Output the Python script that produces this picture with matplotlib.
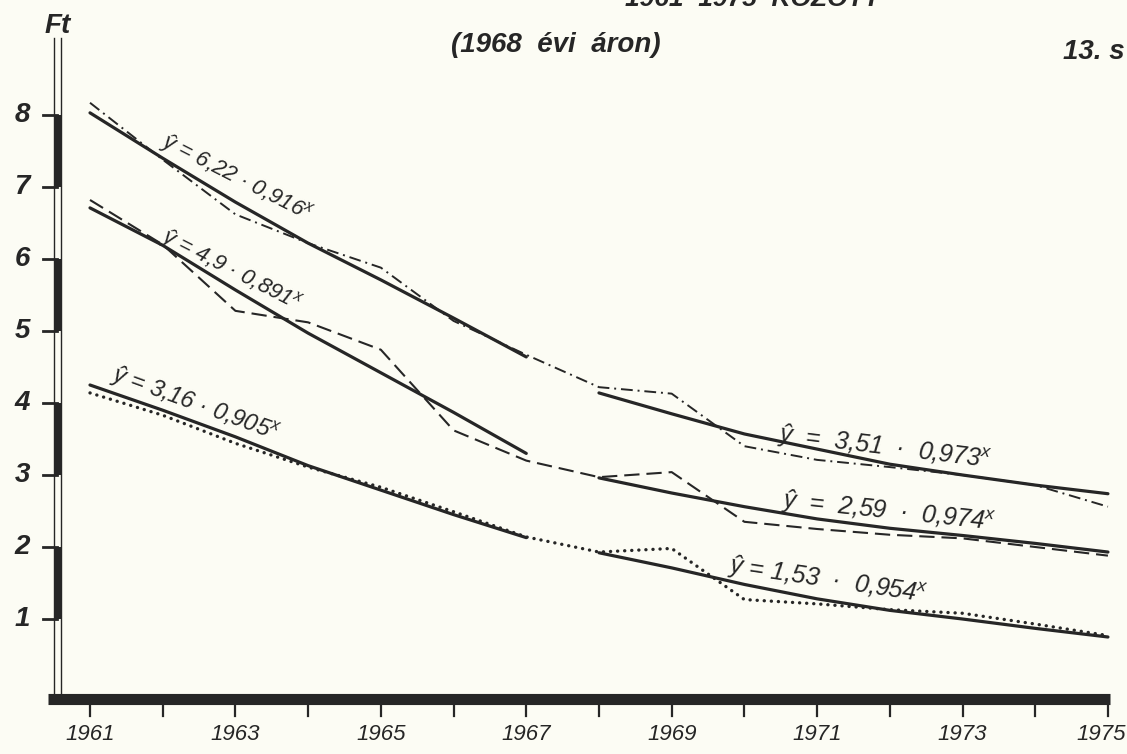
import matplotlib
matplotlib.use("Agg")
import matplotlib.pyplot as plt
from matplotlib.patches import Rectangle

plt.rcParams['lines.scale_dashes'] = False
plt.rcParams['mathtext.fontset'] = 'custom'
plt.rcParams['mathtext.it'] = 'Liberation Sans:italic'
plt.rcParams['mathtext.rm'] = 'Liberation Sans'

# ---------------- data ----------------
years = [1961, 1962, 1963, 1964, 1965, 1966, 1967, 1968,
         1969, 1970, 1971, 1972, 1973, 1974, 1975]
years_p1 = [1961, 1962, 1963, 1964, 1965, 1966, 1967]
years_p2 = [1968, 1969, 1970, 1971, 1972, 1973, 1974, 1975]

obs_a = [8.17, 7.38, 6.62, 6.22, 5.88, 5.14, 4.67, 4.22,
         4.13, 3.40, 3.21, 3.11, 3.00, 2.86, 2.56]
obs_b = [6.82, 6.20, 5.28, 5.12, 4.74, 3.62, 3.20, 2.97,
         3.04, 2.35, 2.25, 2.17, 2.12, 2.00, 1.88]
obs_c = [4.14, 3.83, 3.44, 3.11, 2.83, 2.49, 2.14, 1.93,
         1.98, 1.27, 1.21, 1.13, 1.08, 0.93, 0.77]

fit_a1 = [8.03, 7.40, 6.79, 6.22, 5.71, 5.18, 4.64]
fit_a2 = [4.14, 3.85, 3.57, 3.36, 3.15, 3.00, 2.86, 2.74]
fit_b1 = [6.71, 6.19, 5.57, 4.97, 4.42, 3.87, 3.30]
fit_b2 = [2.96, 2.75, 2.56, 2.39, 2.26, 2.16, 2.05, 1.93]
fit_c1 = [4.25, 3.90, 3.53, 3.13, 2.79, 2.45, 2.13]
fit_c2 = [1.92, 1.71, 1.48, 1.28, 1.12, 1.00, 0.87, 0.75]

eq_labels = ["ŷ = 6,22 · 0,916$^{x}$", "ŷ = 4,9 · 0,891$^{x}$",
             "ŷ = 3,16 · 0,905$^{x}$", "ŷ  =  3,51  ·  0,973$^{x}$",
             "ŷ  =  2,59  ·  0,974$^{x}$", "ŷ = 1,53  ·  0,954$^{x}$"]
y_ticks = [1, 2, 3, 4, 5, 6, 7, 8]
x_label_years = [1961, 1963, 1965, 1967, 1969, 1971, 1973, 1975]

# ---------------- layout ----------------
W, H = 1127, 754
BG = '#fcfcf4'
INK = '#262626'
FONT = ['Liberation Sans', 'DejaVu Sans']
PXY = 72.71   # px per year
X0 = 90       # pixel of 1961
PXU = 72.0    # px per Ft
Y0 = 691      # pixel of 0 Ft


def px2x(px):
    return 1961 + (px - X0) / PXY


def px2y(py):
    return (Y0 - py) / PXU


fig = plt.figure(figsize=(W / 100, H / 100), dpi=100, facecolor=BG)
ax = fig.add_axes([0, 0, 1, 1])
ax.set_xlim(px2x(0), px2x(W))
ax.set_ylim(px2y(H), px2y(0))
ax.axis('off')

# ---------------- series ----------------
ax.plot(years, obs_a, color=INK, lw=1.4, dashes=(8.5, 3.5, 1.4, 3.5))
ax.plot(years, obs_b, color=INK, lw=1.5, dashes=(11, 5))
ax.plot(years, obs_c, color=INK, lw=2.4, dashes=(0.1, 5.0),
        dash_capstyle='round')
for yrs, vals in [(years_p1, fit_a1), (years_p2, fit_a2),
                  (years_p1, fit_b1), (years_p2, fit_b2),
                  (years_p1, fit_c1), (years_p2, fit_c2)]:
    ax.plot(yrs, vals, color=INK, lw=2.3, solid_capstyle='round')

# ---------------- equation labels ----------------
eq_pos = [(236, 178, -27, 16), (231, 270, -27, 16), (195, 405, -20, 17),
          (885, 448, -7, 18), (888, 512, -6, 18), (828, 581, -8.5, 18)]
for lab, (px, py, rot, fs) in zip(eq_labels, eq_pos):
    ax.text(px2x(px), px2y(py), lab, rotation=rot, rotation_mode='anchor',
            ha='center', va='center', fontsize=fs, family=FONT,
            style='italic', color=INK)

# ---------------- y axis ----------------
ax.plot([px2x(54), px2x(54)], [px2y(38), px2y(695)], color=INK, lw=1.0)
ax.plot([px2x(61), px2x(61)], [px2y(38), px2y(695)], color=INK, lw=1.0)
for lo in [7, 5, 3, 1]:
    ax.add_patch(Rectangle((px2x(54), lo), px2x(61) - px2x(54), 1,
                           color=INK, lw=0))
for t in y_ticks:
    ax.plot([px2x(43), px2x(57)], [t, t], color=INK, lw=2.0)
    ax.text(px2x(22), t, str(t), ha='center', va='center', fontsize=20,
            family=FONT, weight='bold', style='italic', color=INK)
ax.text(px2x(58), px2y(26), 'Ft', ha='center', va='center', fontsize=20,
        family=FONT, weight='bold', style='italic', color=INK)

# ---------------- x axis ----------------
ax.plot([px2x(48), px2x(1110)], [px2y(699), px2y(699)], color=INK, lw=8.0,
        solid_capstyle='butt')
for yr in years:
    ax.plot([yr, yr], [px2y(702), px2y(716)], color=INK, lw=1.6)
for yr in x_label_years:
    xx = yr if yr < 1975 else px2x(1101)
    ax.text(xx, px2y(734), str(yr), ha='center', va='center', fontsize=16,
            family=FONT, style='italic', color=INK)

# ---------------- titles ----------------
ax.text(px2x(556), px2y(45), '(1968  évi  áron)', ha='center', va='center',
        fontsize=20, family=FONT, weight='bold', style='italic', color=INK)
ax.text(px2x(625), px2y(6), '1961  1975  KÖZÖTT', ha='left',
        va='baseline', fontsize=19, family=FONT, weight='bold',
        style='italic', color=INK)
ax.text(px2x(1125), px2y(52), '13. s', ha='right', va='center',
        fontsize=20, family=FONT, weight='bold', style='italic', color=INK)

fig.savefig('out.png', dpi=100, facecolor=BG)
